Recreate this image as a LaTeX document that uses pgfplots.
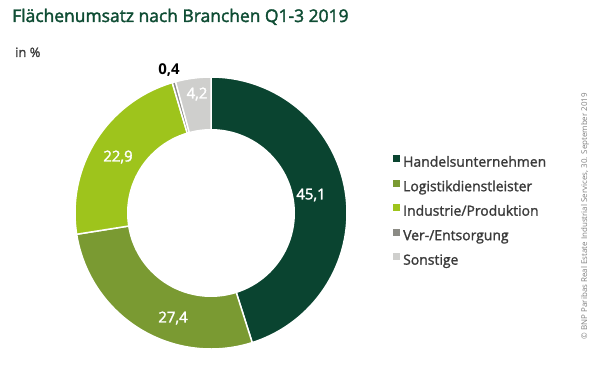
\documentclass[border=0pt]{standalone}
\usepackage{pgfplots}
\pgfplotsset{compat=1.18}
\usepackage{fontspec}
\setmainfont{Open Sans}
\newfontfamily\medfont[FakeBold=2]{Open Sans}
\newfontfamily\legfont[FakeBold=1.5]{Open Sans}
\definecolor{handel}{HTML}{0A4430}
\definecolor{logistik}{HTML}{7A9A32}
\definecolor{industrie}{HTML}{9EC41C}
\definecolor{ver}{HTML}{8B8B85}
\definecolor{sonst}{HTML}{CFCFCD}
\definecolor{titlegreen}{HTML}{0F4D34}
\definecolor{txtgray}{HTML}{3A3A3A}
\def\startang{90}
\newcommand\slice[2]{%
 \pgfmathsetmacro\endang{\startang-3.6*#1}%
 \edef\tmp{\noexpand\addplot[forget plot, fill=#2, draw=white, line width=1.5pt, line join=round, domain=\endang:\startang, samples=80, variable=\noexpand\t] ({211+136*cos(\noexpand\t)},{172+136*sin(\noexpand\t)}) -- (axis cs:211,172) -- cycle;}%
 \tmp
 \global\let\startang\endang}
\begin{document}
\begin{tikzpicture}
\begin{axis}[scale only axis, width=600bp, height=385bp,
  xmin=0, xmax=600, ymin=0, ymax=385, hide axis, clip=false,
  legend image code/.code={\fill[#1,draw=none] (0bp,1bp) rectangle (7bp,8bp);},
  legend cell align=left,
  legend style={at={(axis cs:390,232)}, anchor=north west, draw=none, fill=none,
    font=\legfont\fontsize{14}{16}\selectfont, text=txtgray, row sep=10bp,
    nodes={inner xsep=3bp, inner ysep=0bp, text height=10bp, text depth=3bp}},
]
\path[draw=none] (axis cs:0,0) rectangle (axis cs:600,385);
\slice{45.1}{handel}
\slice{27.4}{logistik}
\slice{22.9}{industrie}
\slice{0.4}{ver}
\slice{4.2}{sonst}
\addplot[forget plot, fill=white, draw=none, domain=0:360, samples=120, variable=\t] ({211+84*cos(\t)},{172+84*sin(\t)}) -- cycle;
\addlegendimage{fill=handel}\addlegendentry{Handelsunternehmen}
\addlegendimage{fill=logistik}\addlegendentry{Logistikdienstleister}
\addlegendimage{fill=industrie}\addlegendentry{Industrie/Produktion}
\addlegendimage{fill=ver}\addlegendentry{Ver-/Entsorgung}
\addlegendimage{fill=sonst}\addlegendentry{Sonstige}
\node[anchor=base west, text=titlegreen, font=\medfont\fontsize{17.5}{20}\selectfont, inner sep=0pt] at (axis cs:12,363) {Flächenumsatz nach Branchen Q1-3 2019};
\node[anchor=base west, text=txtgray, font=\legfont\fontsize{13}{15}\selectfont, inner sep=0pt] at (axis cs:15,328) {in \%};
\node[text=white, font=\medfont\fontsize{15}{17}\selectfont] at (axis cs:311,190) {45,1};
\node[text=white, font=\medfont\fontsize{15}{17}\selectfont] at (axis cs:173,67) {27,4};
\node[text=white, font=\medfont\fontsize{15}{17}\selectfont] at (axis cs:118,228) {22,9};
\node[text=white, font=\medfont\fontsize{15}{17}\selectfont] at (axis cs:197,291) {4,2};
\node[text=black, font=\fontsize{15}{17}\selectfont\bfseries] at (axis cs:169,315) {0,4};
\node[rotate=90, text=gray, font=\fontsize{8}{9}\selectfont] at (axis cs:585,169) {© BNP Paribas Real Estate Industrial Services, 30. September 2019};
\end{axis}
\end{tikzpicture}
\end{document}
